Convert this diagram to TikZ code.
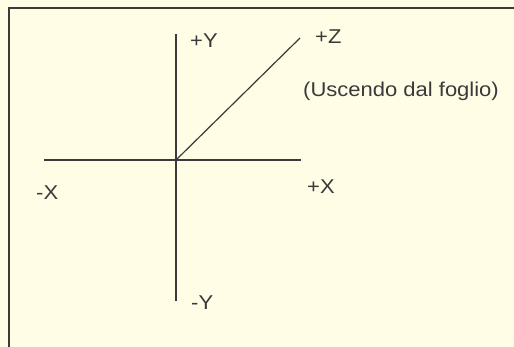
\documentclass[tikz,border=0pt]{standalone}
\usepackage{fontspec}
\setmainfont[FakeStretch=1.1]{Liberation Sans}
\definecolor{paper}{HTML}{FFFDE6}
\definecolor{ink}{HTML}{3A3A3A}
\tikzset{
  axis/.style={draw=ink,line width=2pt},
  zaxis/.style={draw=ink,line width=1.2pt},
  lbl/.style={anchor=base west,inner sep=0pt,text=ink,font=\fontsize{20}{24}\selectfont}
}
\begin{document}
\begin{tikzpicture}[x=1pt,y=-1pt]
    \useasboundingbox[fill=paper] (0,0) rectangle (514,347);
    % cornice
    \draw[axis] (9,347) -- (9,8) -- (514,8);

    % assi
    \coordinate (O) at (176,160);
    \coordinate (ytop) at (176,34);
    \coordinate (ybot) at (176,301);
    \coordinate (xleft) at (44,160);
    \coordinate (xright) at (301,160);
    \coordinate (ztip) at (300,38);
    \draw[axis] (ytop) -- (ybot);
    \draw[axis] (xleft) -- (xright);
    \draw[zaxis] (O) -- (ztip);

    % etichette
    \node[lbl] (py) at (190,48) {+Y};
    \node[lbl] (pz) at (315,44) {+Z};
    \node[lbl] (note) at (303,97) {(Uscendo dal foglio)};
    \node[lbl] (mx) at (36,200) {-X};
    \node[lbl] (px) at (307,194) {+X};
    \node[lbl] (my) at (191,310) {-Y};
  \end{tikzpicture}
\end{document}
